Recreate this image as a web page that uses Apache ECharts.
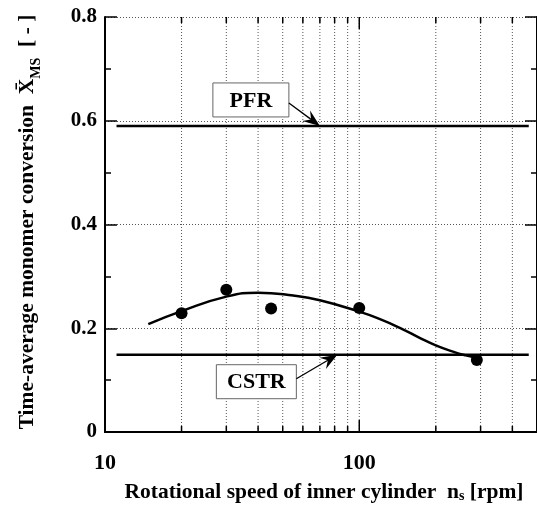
<!DOCTYPE html>
<html><head><meta charset="utf-8">
<script src="https://cdn.jsdelivr.net/npm/echarts@6/dist/echarts.min.js"></script>
<style>html,body{margin:0;padding:0;background:#fff}#c{width:537px;height:510px}</style>
</head><body><div id="c"></div><script>
// Measured time-average monomer conversion vs. rotational speed
const speedMeasured = [20, 30, 45, 100, 290];
const conversionMeasured = [0.229, 0.274, 0.238, 0.239, 0.139];

// Fitted trend curve
const speedFit = [14.8, 20, 30, 40, 55, 70, 100, 120, 147, 172, 200, 235, 262, 295];
const conversionFit = [0.208, 0.233, 0.261, 0.2685, 0.263, 0.254, 0.232, 0.218, 0.199, 0.182, 0.167, 0.1544, 0.1479, 0.1428];

// Ideal-reactor reference levels
const refSpeedRange = [11.1, 464];
const pfrConversion = 0.59;
const cstrConversion = 0.149;

// Axis scales
const xMin = 10, xMax = 500;
const xLabelValues = [10, 100];
const xGridValues = [20, 30, 40, 50, 60, 70, 80, 90, 100, 200, 300, 400];
const yMin = 0, yMax = 0.8, yStep = 0.2;

// Callout annotations: name, arrow target (speed, conversion)
const calloutNames = ['PFR', 'CSTR'];
const calloutSpeed = [70, 82];
const calloutConversion = [pfrConversion, cstrConversion];

const FONT = "'Liberation Serif', 'Times New Roman', serif";
const calloutBoxes = { PFR: { dx: -69, dy: -26, w: 76, h: 34 }, CSTR: { dx: -81, dy: 27, w: 80, h: 34 } };

const chart = echarts.init(document.getElementById('c'), null, { renderer: 'canvas' });

const yAxisCommon = {
  type: 'value', min: yMin, max: yMax, interval: yStep,
  axisLine: { show: true, lineStyle: { color: '#000', width: 2 } },
  axisTick: { show: true, inside: true, length: 12, lineStyle: { color: '#000', width: 1.5 } },
  minorTick: { show: true, splitNumber: 2, length: 6, lineStyle: { color: '#000', width: 1.5 } }
};

chart.setOption({
  animation: false,
  backgroundColor: '#fff',
  grid: { left: 105, right: 0, top: 17, bottom: 78, containLabel: false, outerBoundsMode: 'none' },
  xAxis: [{
    type: 'log', logBase: 10, min: xMin, max: xMax, position: 'bottom',
    axisLine: { show: true, lineStyle: { color: '#000', width: 2 } },
    axisTick: { show: false },
    splitLine: { show: false },
    axisLabel: {
      margin: 20, color: '#000', fontFamily: FONT, fontWeight: 'bold', fontSize: 22,
      formatter: v => { const r = Math.round(v); return (xLabelValues.includes(r) && Math.abs(v - r) < 1e-6) ? String(r) : ''; }
    }
  }, {
    type: 'log', logBase: 10, min: xMin, max: xMax, position: 'top',
    axisLine: { show: true, lineStyle: { color: '#000', width: 2 } },
    axisTick: { show: false }, axisLabel: { show: false }, splitLine: { show: false }
  }],
  yAxis: [Object.assign({}, yAxisCommon, {
    position: 'left',
    splitLine: { show: true, lineStyle: { color: '#555', width: 1, type: [1, 2] } },
    axisLabel: {
      margin: 8, color: '#000', fontFamily: FONT, fontWeight: 'bold', fontSize: 21,
      formatter: v => (v === 0 ? '0' : v.toFixed(1))
    }
  }), Object.assign({}, yAxisCommon, {
    position: 'right', splitLine: { show: false }, axisLabel: { show: false }
  })],
  series: [
    {
      // dotted vertical grid + inward ticks on bottom and top edges
      type: 'custom', silent: true, z: 1,
      data: xGridValues.map(v => [v, yMin]),
      encode: { x: 0, y: 1 },
      renderItem(params, api) {
        const v = api.value(0);
        const b = api.coord([v, yMin]);
        const t = api.coord([v, yMax]);
        const lg = Math.log10(v);
        const len = Math.abs(lg - Math.round(lg)) < 1e-9 ? 12 : 6;
        return {
          type: 'group', children: [
            { type: 'line', shape: { x1: b[0], y1: b[1], x2: t[0], y2: t[1] }, style: { stroke: '#555', lineWidth: 1, lineDash: [1, 2] } },
            { type: 'line', shape: { x1: b[0], y1: b[1], x2: b[0], y2: b[1] - len }, style: { stroke: '#000', lineWidth: 1.5 } },
            { type: 'line', shape: { x1: t[0], y1: t[1], x2: t[0], y2: t[1] + len }, style: { stroke: '#000', lineWidth: 1.5 } }
          ]
        };
      }
    },
    {
      name: 'PFR', type: 'line', symbol: 'none', silent: true, z: 3,
      data: refSpeedRange.map(x => [x, pfrConversion]),
      lineStyle: { color: '#000', width: 2.5 }
    },
    {
      name: 'CSTR', type: 'line', symbol: 'none', silent: true, z: 3,
      data: refSpeedRange.map(x => [x, cstrConversion]),
      lineStyle: { color: '#000', width: 2.5 }
    },
    {
      name: 'fit', type: 'line', symbol: 'none', smooth: 0.5, silent: true, z: 4,
      data: speedFit.map((x, i) => [x, conversionFit[i]]),
      lineStyle: { color: '#000', width: 2.5 }
    },
    {
      name: 'measured', type: 'scatter', symbol: 'circle', symbolSize: 12, z: 5,
      data: speedMeasured.map((x, i) => [x, conversionMeasured[i]]),
      itemStyle: { color: '#000', opacity: 1 }
    },
    {
      // labelled boxes with arrows pointing at the reference lines
      type: 'custom', silent: true, z: 6,
      data: calloutNames.map((n, i) => [calloutSpeed[i], calloutConversion[i], n]),
      encode: { x: 0, y: 1 },
      renderItem(params, api) {
        const name = calloutNames[params.dataIndex];
        const box = calloutBoxes[name];
        const tip = api.coord([api.value(0), api.value(1)]);
        const cx = tip[0] + box.dx, cy = tip[1] + box.dy;
        const sx = cx + box.w / 2, sy = cy + (box.dy < 0 ? 3 : -3);
        const ang = Math.atan2(tip[1] - sy, tip[0] - sx);
        const L = 17, W = 6.5, N = 11;
        const ux = Math.cos(ang), uy = Math.sin(ang), px = -uy, py = ux;
        const head = [
          [tip[0], tip[1]],
          [tip[0] - ux * L + px * W, tip[1] - uy * L + py * W],
          [tip[0] - ux * N, tip[1] - uy * N],
          [tip[0] - ux * L - px * W, tip[1] - uy * L - py * W]
        ];
        return {
          type: 'group', children: [
            { type: 'rect', shape: { x: cx - box.w / 2, y: cy - box.h / 2, width: box.w, height: box.h }, style: { fill: '#fff', stroke: '#666', lineWidth: 1 } },
            { type: 'text', x: cx, y: cy + 1, style: { text: name, align: 'center', verticalAlign: 'middle', font: "bold 22px " + FONT, fill: '#000' } },
            { type: 'line', shape: { x1: sx, y1: sy, x2: tip[0] - ux * N, y2: tip[1] - uy * N }, style: { stroke: '#000', lineWidth: 1.3 } },
            { type: 'polygon', shape: { points: head }, style: { fill: '#000' } }
          ]
        };
      }
    }
  ],
  graphic: [
    {
      type: 'text', x: 27, y: 222, rotation: Math.PI / 2,
      style: {
        text: 'Time-average monomer conversion  {b|X\u0304}{sub|MS}  {b|[ - ]}',
        align: 'center', verticalAlign: 'middle',
        font: 'bold 21.5px ' + FONT, fill: '#000',
        rich: {
          b: { font: 'bold 21.5px ' + FONT, lineHeight: 32, verticalAlign: 'middle' },
          sub: { font: 'bold 14px ' + FONT, lineHeight: 16, verticalAlign: 'bottom' }
        }
      }
    },
    {
      type: 'text', x: 324, y: 492,
      style: {
        text: 'Rotational speed of inner cylinder  n{sub|s} [rpm]',
        align: 'center', verticalAlign: 'middle',
        font: 'bold 21.5px ' + FONT, fill: '#000',
        rich: {
          sub: { font: 'bold 14px ' + FONT, lineHeight: 16, verticalAlign: 'bottom' }
        }
      }
    }
  ]
});
</script></body></html>
